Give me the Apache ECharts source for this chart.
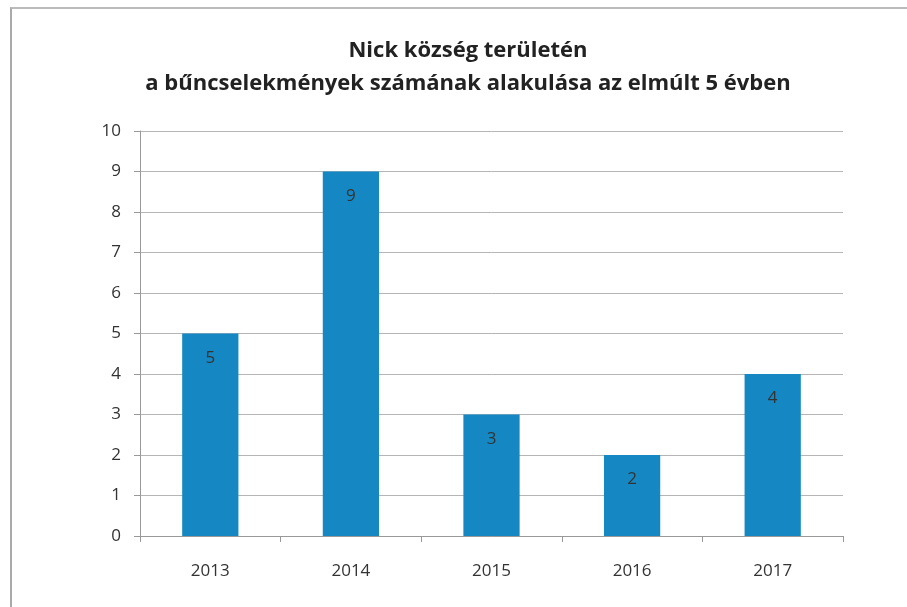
<!DOCTYPE html>
<html>
<head>
<meta charset="utf-8">
<script src="https://cdn.jsdelivr.net/npm/echarts@6/dist/echarts.min.js"></script>
<style>
html,body{margin:0;padding:0;background:#fff;}
#c{width:907px;height:607px;position:relative;}
#frame{position:absolute;left:10px;top:7px;width:900px;height:610px;border-left:2px solid #aaa;border-top:2px solid #bbb;box-sizing:border-box;pointer-events:none;}
</style>
</head>
<body>
<div id="c"></div>
<div id="frame"></div>
<script>
var categories = ['2013', '2014', '2015', '2016', '2017'];
var values = [5, 9, 3, 2, 4];
var titleText = 'Nick község területén\na bűncselekmények számának alakulása az elmúlt 5 évben';

var chart = echarts.init(document.getElementById('c'));
chart.setOption({
  backgroundColor: '#fff',
  animation: false,
  title: {
    text: titleText,
    left: 463,
    textAlign: 'center',
    top: 29,
    textStyle: {
      fontFamily: 'Open Sans',
      fontWeight: 'bold',
      fontSize: 22,
      lineHeight: 33,
      color: '#222'
    }
  },
  grid: {left: 140, right: 64, top: 131, bottom: 71},
  xAxis: {
    type: 'category',
    data: categories,
    axisLine: {lineStyle: {color: '#999', width: 1}},
    axisTick: {show: true, length: 6, lineStyle: {color: '#999'}},
    axisLabel: {fontFamily: 'Open Sans', fontSize: 17, color: '#333', margin: 27}
  },
  yAxis: {
    type: 'value',
    min: 0, max: 10, interval: 1,
    axisLine: {show: true, lineStyle: {color: '#999', width: 1}},
    axisTick: {show: true, length: 6, lineStyle: {color: '#999'}},
    axisLabel: {fontFamily: 'Open Sans', fontSize: 17, color: '#333', margin: 19},
    splitLine: {lineStyle: {color: '#b5b5b5', width: 1}}
  },
  series: [{
    type: 'bar',
    data: values,
    barWidth: '40%',
    itemStyle: {color: '#1588c4'},
    label: {
      show: true,
      position: 'insideTop',
      distance: 16,
      fontFamily: 'Open Sans',
      fontSize: 17,
      color: '#333'
    }
  }]
});
</script>
</body>
</html>
